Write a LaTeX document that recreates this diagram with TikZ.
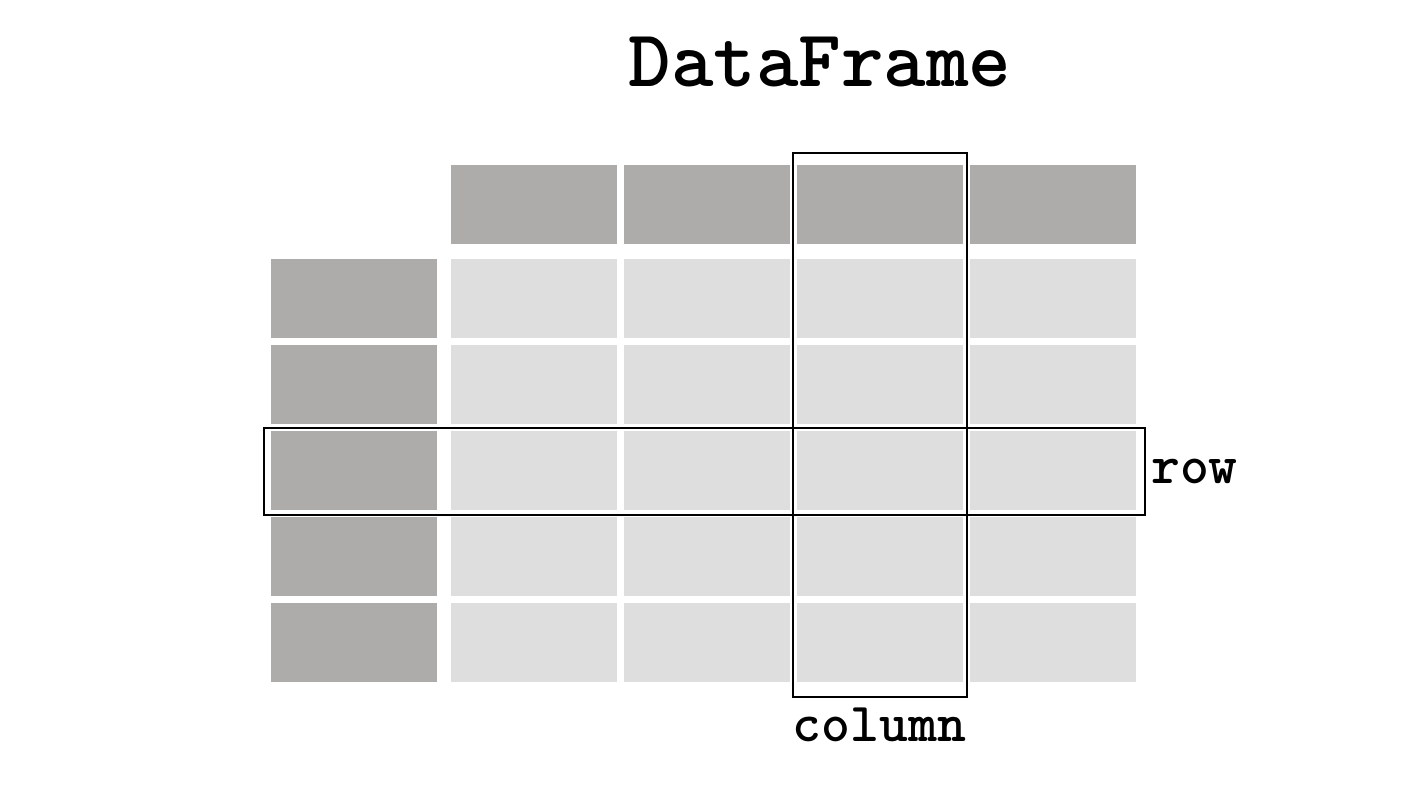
\documentclass[tikz,border=0pt]{standalone}
\usepackage{fontspec}
\definecolor{hdrgray}{RGB}{173,172,170}
\definecolor{cellgray}{RGB}{222,222,222}
\begin{document}
\begin{tikzpicture}[x=1pt,y=-1pt,
  hdrcell/.style={fill=hdrgray,draw=none,inner sep=0pt,outer sep=0pt,minimum width=166pt,minimum height=79pt,anchor=north west},
  datacell/.style={fill=cellgray,draw=none,inner sep=0pt,outer sep=0pt,minimum width=166pt,minimum height=79pt,anchor=north west},
  hilite/.style={draw=black,line width=2pt,inner sep=0pt,outer sep=0pt,anchor=north west},
  lbl/.style={font=\ttfamily\bfseries\fontsize{55}{60}\selectfont,anchor=base,inner sep=0pt}]
\useasboundingbox[fill=white] (0,0) rectangle (1414,792);
% header row
\foreach \c/\x in {1/451,2/624,3/797,4/970}
  \node[hdrcell] (h\c) at (\x,165) {};
% index column and data cells
\foreach \r/\y in {1/259,2/345,3/431,4/517,5/603}{
  \node[hdrcell] (i\r) at (271,\y) {};
  \foreach \c/\x in {1/451,2/624,3/797,4/970}
    \node[datacell] (d\r\c) at (\x,\y) {};
}
% highlighted column and row
\node[hilite,minimum width=174pt,minimum height=544pt] (colbox) at (793,152.5) {};
\node[hilite,minimum width=881pt,minimum height=87pt] (rowbox) at (263.5,427.5) {};
% labels
\node[lbl,font=\ttfamily\bfseries\fontsize{81}{90}\selectfont] (title) at (820,86.7) {DataFrame};
\node[lbl] (collbl) at (879.5,741.7) {column};
\node[lbl,anchor=base west] (rowlbl) at (1151,483) {row};
\end{tikzpicture}
\end{document}
